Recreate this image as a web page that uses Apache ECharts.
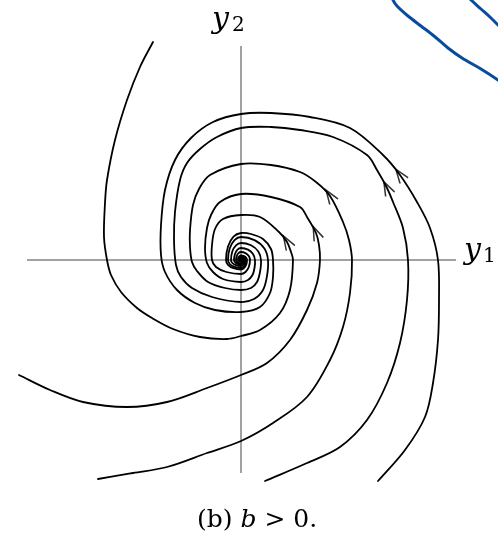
<!DOCTYPE html>
<html>
<head>
<meta charset="utf-8">
<script src="https://cdn.jsdelivr.net/npm/echarts/dist/echarts.min.js"></script>
<style>
  html, body { margin: 0; padding: 0; background: #fff; }
  #main { width: 498px; height: 545px; }
</style>
</head>
<body>
<div id="main"></div>
<script>
// phase plane, units = pixels from the focus
// trajectories, listed in time order (counterclockwise, inward)
const trajA = [[-88,218],[-101,193],[-114,160],[-126,120],[-134,80],[-136,57],[-137,23],[-134,0],[-130,-15],[-120,-32],[-104,-48],[-89,-58],[-68,-69],[-41,-77],[-14,-79],[0,-76],[19,-70],[39,-53],[49,-30],[52,0],[50,8],[46,18],[38,28],[19,43],[0,45],[-18,41],[-26,31],[-29,15],[-29,0],[-25,-7],[-14.5,-12],[0,-14],[4.5,-12],[7.8,-7],[9,0],[7.8,4],[4.5,6.9],[0,8],[-2.5,6.9],[-4.3,4],[-5,0],[-4.3,-1.8],[-2.5,-3],[0,-3.5],[1.5,-2],[2,0],[1,1],[0,0]];
const trajB = [[-222,-115],[-191,-130],[-158,-142],[-114,-147],[-74,-142],[-34,-128],[0,-115],[26,-103],[49,-80],[66,-50],[76,-23],[79,0],[78,15],[75,27],[66,43],[59,53],[30,63],[0,66],[-21,58],[-30,45],[-34,32],[-36,12],[-34,-3],[-28,-12],[-18,-19],[0,-22],[7,-20],[11.5,-15],[13.5,-8],[14,0],[12,6],[7,10.4],[0,12],[-3.5,10.4],[-6,6],[-7,0],[-6,-2.2],[-3.5,-3.9],[0,-4.5],[1.5,-3.9],[2.6,-2.2],[3,0],[2,1.5],[0,2],[-1,1],[0,0]];
const trajC = [[-143,-219],[-108,-213],[-74,-207],[-34,-193],[0,-181],[32,-163],[66,-137],[89,-100],[102,-67],[109,-33],[111,0],[108,20],[102,38],[89,64],[75,78],[59,88],[30,95],[0,96],[-31,85],[-42,71],[-48,55],[-51,30],[-51,13],[-49,-2],[-44,-11],[-33,-22],[-16,-28],[0,-30],[10,-28],[16,-22],[19,-12],[20,0],[17.3,8.5],[10,14.7],[0,17],[-5,14.7],[-8.7,8.5],[-10,0],[-8.7,-3],[-5,-5.2],[0,-6],[2,-5.2],[3.5,-3],[4,0],[3.5,1.5],[2,2.6],[0,3],[-1,2],[-1.5,0],[0,0]];
const trajD = [[24,-221],[66,-203],[99,-187],[126,-160],[146,-123],[159,-83],[166,-40],[167,0],[162,32],[152,58],[146,72],[136,90],[126,105],[92,123],[59,130],[30,133],[0,132],[-24,123],[-41,111],[-54,97],[-61,80],[-66,48],[-67,20],[-65,-5],[-60,-17],[-49,-28],[-29,-37],[0,-42],[13,-39],[22,-30],[26,-16],[27,0],[23.4,11.5],[13.5,19.9],[0,23],[-6.5,19.9],[-11.3,11.5],[-13,0],[-11.3,-4],[-6.5,-6.9],[0,-8],[2.5,-6.9],[4.3,-4],[5,0],[4.3,2],[2.5,3.5],[0,4],[-1,3.5],[-1.7,2],[-2,0],[-1,-0.8],[0,0]];
const trajE = [[137,-221],[164,-190],[184,-157],[192,-123],[197,-80],[198,-40],[197,0],[189,32],[176,58],[159,85],[142,105],[109,132],[69,143],[30,147],[0,146],[-28,138],[-50,122],[-66,100],[-76,70],[-80,35],[-80,5],[-76,-12],[-64,-30],[-46,-43],[-26,-50],[0,-52],[19,-47],[29,-33],[32,-17],[32,0],[30,11],[22,21],[10,26],[0,27],[-7.5,23.4],[-13,13.5],[-15,0],[-13,-4.8],[-7.5,-8.2],[0,-9.5],[3,-8.2],[5.2,-4.8],[6,0],[5.2,2.2],[3,3.9],[0,4.5],[-1.2,3.9],[-2.2,2.2],[-2.5,0],[-1.5,-1],[0,-1.2],[0,0]];

const trajectories = [trajA, trajB, trajC, trajD, trajE];

// arrowheads: which trajectory and the point on it
const arrows = [[trajA, [46,18]], [trajB, [75,27]], [trajC, [89,64]], [trajD, [146,72]], [trajE, [159,85]]];

const axisY1 = [[-214,0],[215,0]];
const axisY2 = [[0,214],[0,-213]];
const focus = [[0,0]];

// blue pen marks in the top right corner
const penStroke1 = [[151,264],[152,260],[156,254],[167,244],[180,234],[193,224],[207,212],[221,202],[240,191],[257,180],[262,176]];
const penStroke2 = [[227,263],[230,260],[240,251],[250,242],[257,235],[262,231]];

const curves = trajectories.concat([penStroke1, penStroke2]);

// smooth path through pixel points (cubic, handles ~ 1/3 of the segment)
function smoothPath(pts) {
  let d = 'M' + pts[0][0] + ',' + pts[0][1];
  for (let i = 0; i < pts.length - 1; i++) {
    const p0 = pts[Math.max(i - 1, 0)], p1 = pts[i], p2 = pts[i + 1], p3 = pts[Math.min(i + 2, pts.length - 1)];
    const len = Math.hypot(p2[0] - p1[0], p2[1] - p1[1]);
    const t1 = Math.hypot(p2[0] - p0[0], p2[1] - p0[1]) || 1;
    const t2 = Math.hypot(p3[0] - p1[0], p3[1] - p1[1]) || 1;
    const c1 = [p1[0] + (p2[0] - p0[0]) / t1 * len / 3, p1[1] + (p2[1] - p0[1]) / t1 * len / 3];
    const c2 = [p2[0] - (p3[0] - p1[0]) / t2 * len / 3, p2[1] - (p3[1] - p1[1]) / t2 * len / 3];
    d += ' C' + c1[0] + ',' + c1[1] + ' ' + c2[0] + ',' + c2[1] + ' ' + p2[0] + ',' + p2[1];
  }
  return d;
}

function arrowData() {
  return arrows.map(function (a) {
    const pts = a[0];
    let i = pts.findIndex(function (p) { return p[0] === a[1][0] && p[1] === a[1][1]; });
    const dx = pts[i + 1][0] - pts[i - 1][0];
    const dy = pts[i + 1][1] - pts[i - 1][1];
    return {
      value: a[1],
      symbolRotate: Math.atan2(dy, dx) * 180 / Math.PI - 90
    };
  });
}

const series = [
  { type: 'line', data: axisY1, showSymbol: false, lineStyle: { color: '#444', width: 1 }, z: 2 },
  { type: 'line', data: axisY2, showSymbol: false, lineStyle: { color: '#444', width: 1 }, z: 2 },
  {
    type: 'custom',
    data: curves.map(function (c, i) { return [i, 0]; }),
    renderItem: function (params, api) {
      const pts = curves[params.dataIndex].map(function (p) { return api.coord(p); });
      const pen = params.dataIndex >= trajectories.length;
      return {
        type: 'path',
        shape: { pathData: smoothPath(pts) },
        style: {
          fill: 'none',
          stroke: pen ? '#0a4c9c' : '#000',
          lineWidth: pen ? 3 : 1.8,
          lineJoin: 'round',
          lineCap: 'round'
        }
      };
    },
    clip: true,
    z: 3
  },
  {
    type: 'scatter',
    data: arrowData(),
    symbol: 'path://M0,14 L5,0 L10,14',
    symbolSize: [10, 14],
    itemStyle: { color: 'rgba(0,0,0,0)', borderColor: '#000', borderWidth: 1.7 },
    z: 4
  },
  { type: 'scatter', data: focus, symbolSize: 10, itemStyle: { color: '#000' }, z: 5 }
];

const serif = '"DejaVu Serif", "Liberation Serif", serif';

const option = {
  animation: false,
  backgroundColor: '#fff',
  grid: { left: 0, right: 0, top: 0, bottom: 0 },
  xAxis: { type: 'value', min: -241, max: 257, show: false },
  yAxis: { type: 'value', min: -285, max: 260, show: false },
  series: series,
  graphic: [
    { type: 'text', left: 212, top: 5, style: { text: 'y', font: 'italic 30px ' + serif, fill: '#000' } },
    { type: 'text', left: 232, top: 16, style: { text: '2', font: '20px ' + serif, fill: '#000' } },
    { type: 'text', left: 464, top: 236, style: { text: 'y', font: 'italic 30px ' + serif, fill: '#000' } },
    { type: 'text', left: 483, top: 247, style: { text: '1', font: '20px ' + serif, fill: '#000' } },
    {
      type: 'text', left: 197, top: 508,
      style: {
        text: '{r|(b) }{i|b}{r| > 0.}',
        rich: {
          r: { font: '25px ' + serif, fill: '#000' },
          i: { font: 'italic 25px ' + serif, fill: '#000' }
        }
      }
    }
  ]
};

const chart = echarts.init(document.getElementById('main'));
chart.setOption(option);
</script>
</body>
</html>
